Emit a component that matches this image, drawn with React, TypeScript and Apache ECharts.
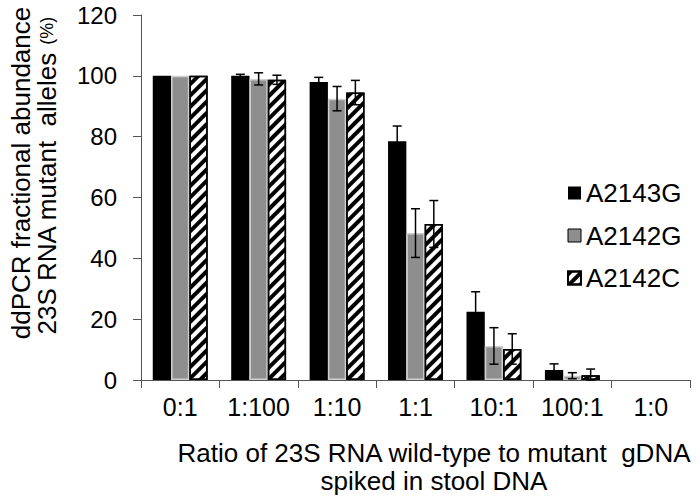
import React, { useEffect, useRef } from "react";
import * as echarts from "echarts";

const categories = ["0:1", "1:100", "1:10", "1:1", "10:1", "100:1", "1:0"];
const seriesNames = ["A2143G", "A2142G", "A2142C"];
const a2143g = [100, 100, 98, 78.5, 22.4, 3.3, 0];
const a2143gErr = [0, 0.5, 1.5, 5, 6.6, 2, 0];
const a2142g = [100, 99, 92.5, 48.3, 11.2, 1.4, 0];
const a2142gErr = [0, 2, 4, 8, 6, 1, 0];
const a2142c = [100, 98.7, 94.5, 51.3, 10.2, 1.6, 0];
const a2142cErr = [0, 1.5, 4, 7.7, 5, 2, 0];
const yTicks = { min: 0, max: 120, interval: 20 };

const FONT = "'Liberation Sans', Arial, sans-serif";

export default function App() {
  const ref = useRef<HTMLDivElement>(null);
  useEffect(() => {
    if (!ref.current) return;
    document.body.style.margin = "0";
    const chart = echarts.init(ref.current, null, { renderer: "svg" });
    const values = [a2143g, a2142g, a2142c];
    const errs = [a2143gErr, a2142gErr, a2142cErr];
    const errData: number[][] = [];
    values.forEach((vals, si) => {
      vals.forEach((v, ci) => {
        errData.push([ci, v, errs[si][ci], si]);
      });
    });
    const styles = [
      { color: "#000000", borderColor: "#000000", borderWidth: 0 },
      { color: "#8e8e8e", borderColor: "#cfcfcf", borderWidth: 1.5 },
      {
        color: "#ffffff",
        borderColor: "#000000",
        borderWidth: 1.5,
        decal: {
          symbol: "rect",
          symbolSize: 1,
          color: "#000000",
          dashArrayX: [1, 0],
          dashArrayY: [4, 4],
          rotation: -Math.PI / 4,
        },
      },
    ];
    const txt = (text: string, x: number, y: number, rot: number, extra: any = {}) => ({
      type: "text",
      x,
      y,
      rotation: rot,
      style: {
        text,
        fontSize: 26,
        fontFamily: FONT,
        fill: "#000",
        align: "center",
        verticalAlign: "middle",
        ...extra,
      },
    });
    const option: any = {
      animation: false,
      backgroundColor: "#ffffff",
      textStyle: { fontFamily: FONT },
      grid: {
        left: 141,
        right: 10,
        top: 15,
        bottom: 120,
        containLabel: false,
        outerBoundsMode: "none",
      },
      legend: {
        orient: "vertical",
        left: 567,
        top: 180,
        padding: 0,
        icon: "rect",
        itemWidth: 13,
        itemHeight: 13,
        itemGap: 16.5,
        textStyle: { fontSize: 26, color: "#000", fontFamily: FONT },
        data: [
          { name: seriesNames[0] },
          { name: seriesNames[1], itemStyle: { borderColor: "#000", borderWidth: 1 } },
          { name: seriesNames[2] },
        ],
      },
      xAxis: {
        type: "category",
        data: categories,
        axisLine: { lineStyle: { color: "#555", width: 1 } },
        axisTick: { show: true, length: 8, lineStyle: { color: "#555" } },
        axisLabel: { fontSize: 25, color: "#000", margin: 14, interval: 0, fontFamily: FONT },
        splitLine: { show: false },
      },
      yAxis: {
        type: "value",
        min: yTicks.min,
        max: yTicks.max,
        interval: yTicks.interval,
        axisLine: { show: true, lineStyle: { color: "#555", width: 1 } },
        axisTick: { show: true, length: 8, lineStyle: { color: "#555" } },
        axisLabel: { fontSize: 24, color: "#000", margin: 24, fontFamily: FONT },
        splitLine: { show: false },
      },
      series: [
        ...values.map((vals, si) => ({
          name: seriesNames[si],
          type: "bar",
          data: vals.map((v) => (v === 0 ? { value: v, itemStyle: { borderWidth: 0, decal: "none" } } : v)),
          barGap: "0%",
          barCategoryGap: "30%",
          itemStyle: styles[si],
          z: 2,
        })),
        {
          type: "custom",
          name: "err",
          z: 10,
          data: errData,
          encode: { x: 0, y: 1 },
          renderItem: (params: any, api: any) => {
            const cat = api.value(0);
            const val = api.value(1);
            const err = api.value(2);
            const si = api.value(3);
            if (!err) return { type: "group", children: [] };
            const catW = api.size([1, 0])[0];
            const bw = (catW * 0.7) / 3;
            const c = api.coord([cat, val]);
            const x = c[0] + (si - 1) * bw;
            const top = api.coord([cat, val + err])[1];
            const bot = api.coord([cat, Math.max(0, val - err)])[1];
            const hw = 4.5;
            const st = { stroke: "#000", lineWidth: 1.5 };
            return {
              type: "group",
              children: [
                { type: "line", shape: { x1: x, y1: top, x2: x, y2: bot }, style: st },
                { type: "line", shape: { x1: x - hw, y1: top, x2: x + hw, y2: top }, style: st },
                { type: "line", shape: { x1: x - hw, y1: bot, x2: x + hw, y2: bot }, style: st },
              ],
            };
          },
        },
      ],
      graphic: [
        txt("ddPCR fractional abundance", 21, 173, Math.PI / 2),
        txt("23S RNA mutant  alleles {p|(%)}", 47, 176, Math.PI / 2, {
          rich: { p: { fontSize: 18, fontFamily: FONT, fill: "#000" } },
        }),
        txt("Ratio of 23S RNA wild-type to mutant  gDNA", 434, 453, 0),
        txt("spiked in stool DNA", 434, 481, 0),
      ],
    };
    chart.setOption(option);
    return () => chart.dispose();
  }, []);
  return <div ref={ref} style={{ width: 700, height: 500 }} />;
}
